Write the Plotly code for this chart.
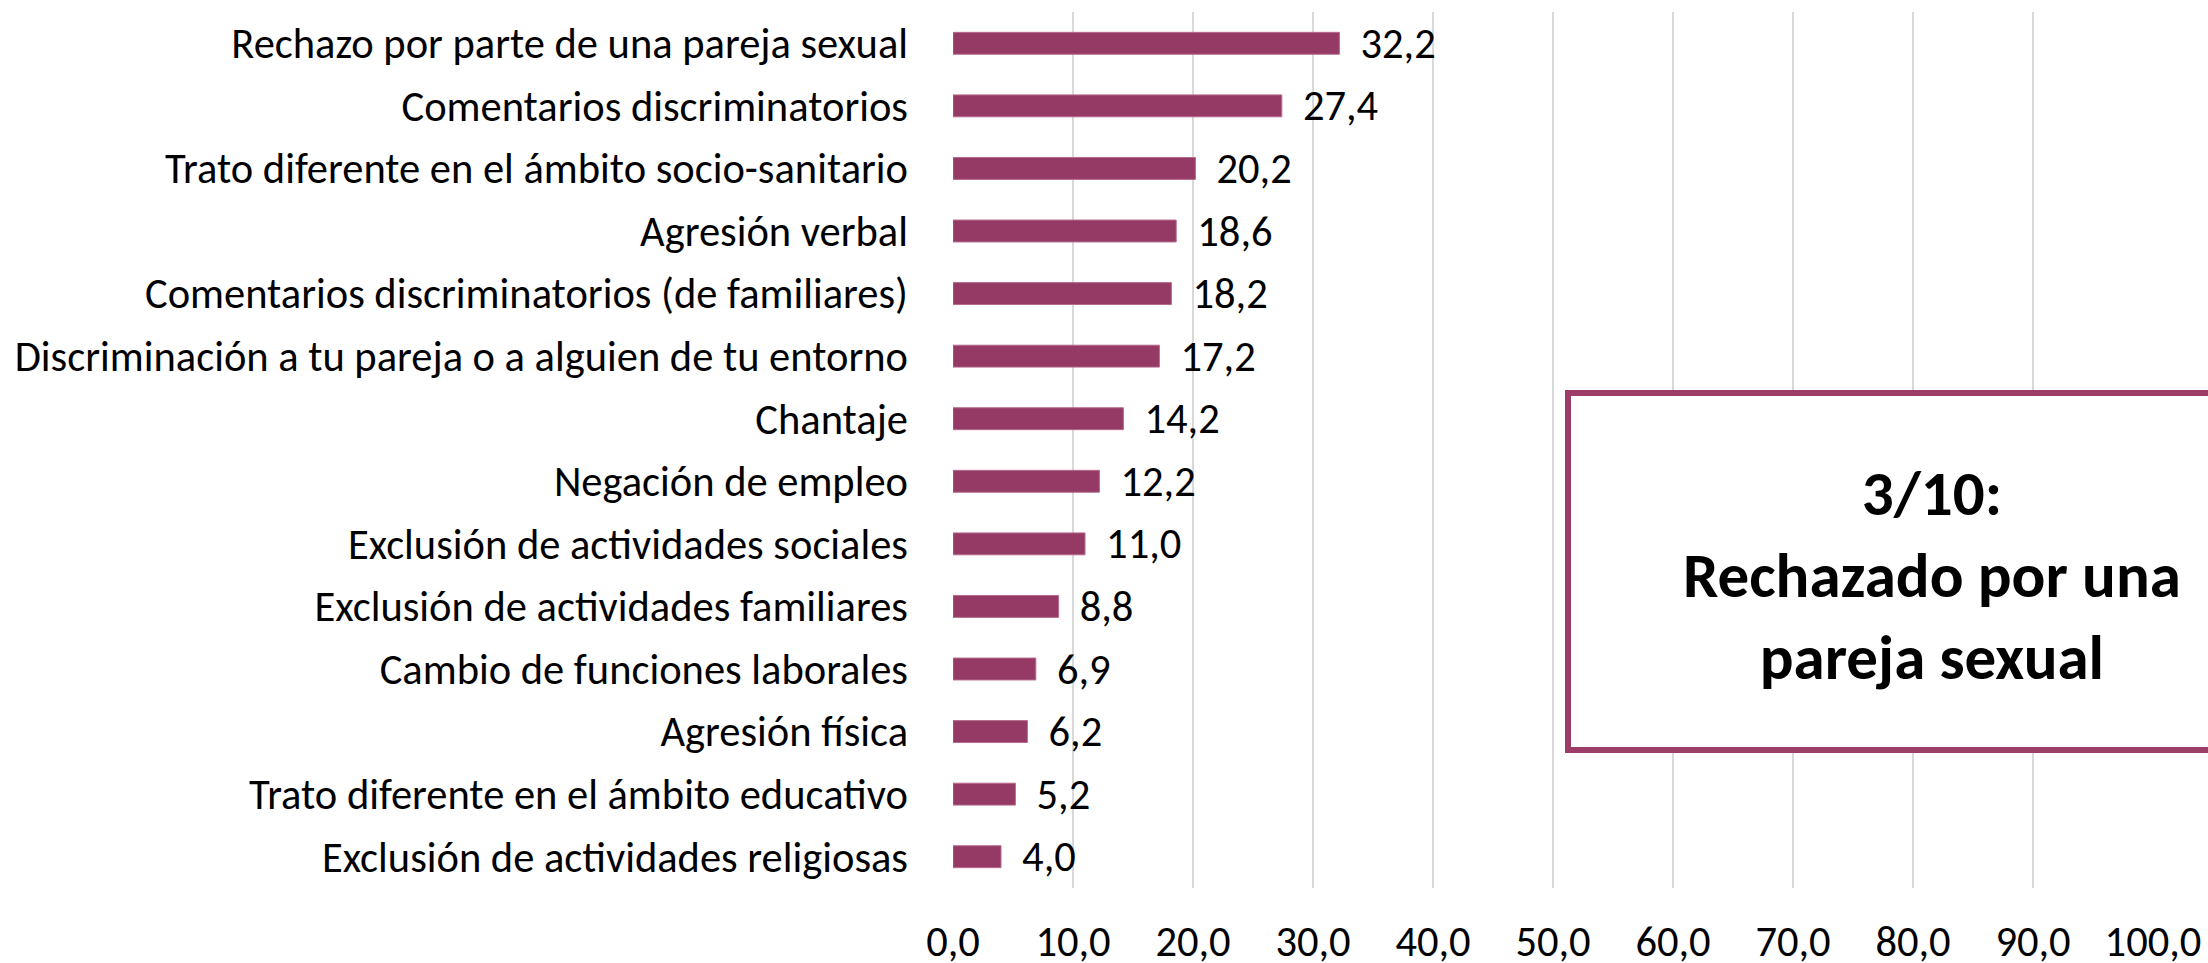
import plotly.graph_objects as go

categories = [
    "Rechazo por parte de una pareja sexual",
    "Comentarios discriminatorios",
    "Trato diferente en el ámbito socio-sanitario",
    "Agresión verbal",
    "Comentarios discriminatorios (de familiares)",
    "Discriminación a tu pareja o a alguien de tu entorno",
    "Chantaje",
    "Negación de empleo",
    "Exclusión de actividades sociales",
    "Exclusión de actividades familiares",
    "Cambio de funciones laborales",
    "Agresión física",
    "Trato diferente en el ámbito educativo",
    "Exclusión de actividades religiosas",
]
values = [32.2, 27.4, 20.2, 18.6, 18.2, 17.2, 14.2, 12.2, 11.0, 8.8, 6.9, 6.2, 5.2, 4.0]
tick_values = [0, 10, 20, 30, 40, 50, 60, 70, 80, 90, 100]
box_text = "3/10:<br>Rechazado por una<br>pareja sexual"

FONT = "Carlito, Calibri, Liberation Sans Narrow, sans-serif"
BAR = "#953A64"
FS = 42.5

fig = go.Figure(go.Bar(
    x=values, y=categories, orientation="h",
    marker=dict(color=BAR, line=dict(color="#B56A8C", width=1)),
    width=0.35,
    text=values,
    texttemplate="\u00a0\u2009%{x:.1f}",
    textposition="outside",
    constraintext="none",
    textfont=dict(family=FONT, size=FS, color="#000000"),
    cliponaxis=False,
))

fig.update_layout(
    width=2208, height=963,
    paper_bgcolor="white", plot_bgcolor="white",
    separators=",.",
    margin=dict(l=953, r=55, t=12, b=75, autoexpand=False),
    showlegend=False,
    font=dict(family=FONT, size=FS, color="#000000"),
    xaxis=dict(
        range=[0, 100], tickvals=tick_values, tickformat=".1f",
        showgrid=True, gridcolor="#D9D9D9", gridwidth=1.5,
        zeroline=False, showline=False, automargin=False,
        ticklabelstandoff=24,
        tickfont=dict(family=FONT, size=FS, color="#000000"),
    ),
    yaxis=dict(
        autorange="reversed", showgrid=False, zeroline=False, showline=False,
        automargin=False,
        ticklabelstandoff=44,
        tickfont=dict(family=FONT, size=FS, color="#000000"),
    ),
    shapes=[dict(
        type="rect", xref="paper", yref="paper",
        x0=(1568 - 953) / 1200.0, x1=1.2,
        y0=(888 - 750) / 876.0, y1=(888 - 393) / 876.0,
        line=dict(color="#9B3D67", width=6), fillcolor="white", layer="above",
    )],
    annotations=[dict(
        xref="paper", yref="paper",
        x=(1932 - 953) / 1200.0, y=(888 - 575) / 876.0,
        text="<b>" + box_text + "</b>", showarrow=False,
        font=dict(family=FONT, size=63, color="#000000"),
        align="center", xanchor="center", yanchor="middle",
    )],
)

fig.write_html("out.html", config={"displayModeBar": False},
               post_script="document.body.style.margin='0';")
